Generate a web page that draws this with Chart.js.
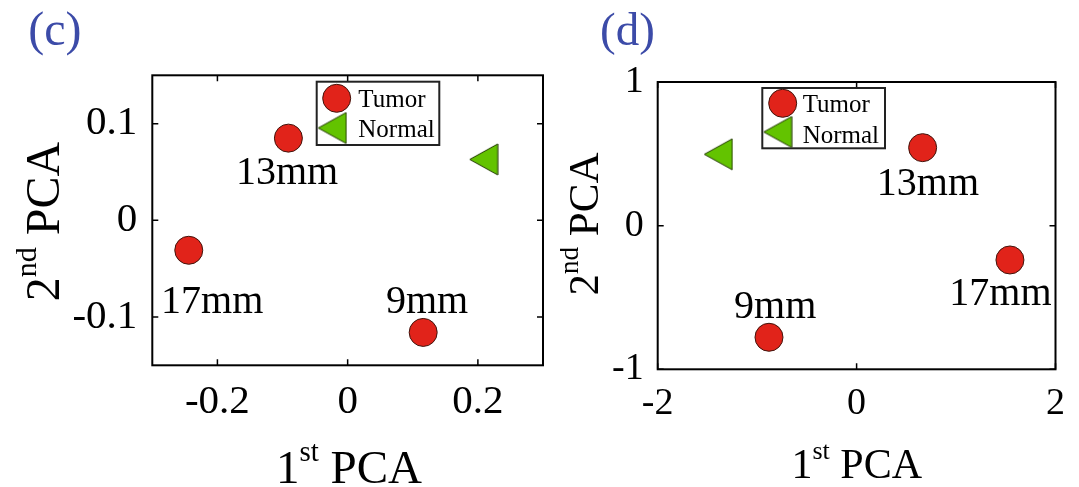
<!DOCTYPE html>
<html>
<head>
<meta charset="utf-8">
<script src="https://cdn.jsdelivr.net/npm/chart.js@4.4.1/dist/chart.umd.min.js"></script>
<style>
  html, body { margin: 0; padding: 0; background: #fff; }
  #wrap { position: relative; width: 1079px; height: 487px; overflow: hidden; }
  .panel { position: absolute; top: 0; height: 487px; }
  #panelC { left: 0; width: 560px; }
  #panelD { left: 560px; width: 519px; }
</style>
</head>
<body>
<div id="wrap">
  <div class="panel" id="panelC"><canvas id="chartC"></canvas></div>
  <div class="panel" id="panelD"><canvas id="chartD"></canvas></div>
</div>
<script>
// tumour sizes, same order in both panels
const sizeLabels = ['9mm', '13mm', '17mm'];

// panel (c)
const tumorCx = [0.116, -0.091, -0.244];
const tumorCy = [-0.116, 0.085, -0.031];
const normalCx = [0.209];
const normalCy = [0.063];
const labelCx = [0.122, -0.093, -0.208];
const labelCy = [-0.096, 0.038, -0.096];
const xTicksC = [-0.2, 0, 0.2];
const yTicksC = [-0.1, 0, 0.1];

// panel (d)
const tumorDx = [-0.881, 0.664, 1.542];
const tumorDy = [-0.777, 0.543, -0.239];
const normalDx = [-1.391];
const normalDy = [0.497];
const labelDx = [-0.819, 0.717, 1.446];
const labelDy = [-0.645, 0.214, -0.552];
const xTicksD = [-2, 0, 2];
const yTicksD = [-1, 0, 1];

const SERIF = '"Liberation Serif", "Times New Roman", serif';
const RED = '#e1231a';
const GREEN = '#63c300';
const BLUE = '#3c4ba8';

// left-pointing triangle, like matlab's '<' marker
function triangleImage(w, h) {
  const c = document.createElement('canvas');
  c.width = w + 2; c.height = h + 2;
  const g = c.getContext('2d');
  g.beginPath();
  g.moveTo(1, (h + 2) / 2);
  g.lineTo(w + 1, 1);
  g.lineTo(w + 1, h + 1);
  g.closePath();
  g.fillStyle = GREEN; g.fill();
  g.lineWidth = 1; g.strokeStyle = '#223a00'; g.stroke();
  return c;
}
const tri = triangleImage(28, 31);

function pts(xs, ys) { return xs.map((x, i) => ({ x, y: ys[i] })); }

// "1st PCA" style label with superscript, centred on cx
function supLabel(ctx, base, sup, rest, cx, y, size) {
  const small = Math.round(size * 0.62);
  ctx.font = size + 'px ' + SERIF;
  const w1 = ctx.measureText(base).width, w3 = ctx.measureText(rest).width;
  ctx.font = small + 'px ' + SERIF;
  const w2 = ctx.measureText(sup).width;
  let x = cx - (w1 + w2 + w3) / 2;
  ctx.textAlign = 'left'; ctx.textBaseline = 'alphabetic';
  ctx.font = size + 'px ' + SERIF;
  ctx.fillText(base, x, y); x += w1;
  ctx.font = small + 'px ' + SERIF;
  ctx.fillText(sup, x, y - size * 0.47); x += w2;
  ctx.font = size + 'px ' + SERIF;
  ctx.fillText(rest, x, y);
}

function makePanel(id, p) {
  const deco = {
    id: 'deco',
    afterDatasetsDraw(chart) {
      const { ctx, scales: { x, y } } = chart;
      ctx.save();
      ctx.fillStyle = '#000';
      ctx.font = p.labelSize + 'px ' + SERIF;
      ctx.textAlign = 'center'; ctx.textBaseline = 'alphabetic';
      sizeLabels.forEach((t, i) => {
        ctx.fillText(t, x.getPixelForValue(p.labelX[i]), y.getPixelForValue(p.labelY[i]));
      });
      ctx.restore();
    },
    afterDraw(chart) {
      const { ctx, chartArea: a, scales: { x, y } } = chart;
      ctx.save();
      // box + inward ticks on all sides
      ctx.strokeStyle = '#000';
      ctx.lineWidth = 2;
      ctx.strokeRect(a.left, a.top, a.right - a.left, a.bottom - a.top);
      ctx.lineWidth = 1.5;
      ctx.beginPath();
      p.xTicks.forEach(v => {
        const px = x.getPixelForValue(v);
        ctx.moveTo(px, a.bottom); ctx.lineTo(px, a.bottom - 6);
        ctx.moveTo(px, a.top); ctx.lineTo(px, a.top + 6);
      });
      p.yTicks.forEach(v => {
        const py = y.getPixelForValue(v);
        ctx.moveTo(a.left, py); ctx.lineTo(a.left + 6, py);
        ctx.moveTo(a.right, py); ctx.lineTo(a.right - 6, py);
      });
      ctx.stroke();

      // legend
      const L = p.legend;
      ctx.fillStyle = '#fff';
      ctx.fillRect(L.box[0], L.box[1], L.box[2] - L.box[0], L.box[3] - L.box[1]);
      ctx.lineWidth = 2;
      ctx.strokeStyle = '#222';
      ctx.strokeRect(L.box[0], L.box[1], L.box[2] - L.box[0], L.box[3] - L.box[1]);
      ctx.beginPath();
      ctx.arc(L.circle[0], L.circle[1], 14, 0, Math.PI * 2);
      ctx.fillStyle = RED; ctx.fill();
      ctx.lineWidth = 1; ctx.strokeStyle = '#40140c'; ctx.stroke();
      ctx.drawImage(tri, L.tri[0] - tri.width / 2, L.tri[1] - tri.height / 2);
      ctx.fillStyle = '#000';
      ctx.font = L.size + 'px ' + SERIF;
      ctx.textAlign = 'left'; ctx.textBaseline = 'alphabetic';
      ctx.fillText('Tumor', L.textX, L.base[0]);
      ctx.fillText('Normal', L.textX, L.base[1]);

      // axis titles
      supLabel(ctx, '1', 'st', ' PCA', p.xTitle[0], p.xTitle[1], p.xTitleSize);
      ctx.save();
      ctx.translate(p.yTitle[0], p.yTitle[1]);
      ctx.rotate(-Math.PI / 2);
      supLabel(ctx, '2', 'nd', ' PCA', 0, 0, p.yTitleSize);
      ctx.restore();

      // panel letter
      ctx.fillStyle = BLUE;
      ctx.font = p.letterSize + 'px ' + SERIF;
      ctx.textAlign = 'left';
      ctx.fillText(p.letter, p.letterPos[0], p.letterPos[1]);
      ctx.restore();
    }
  };

  const tickFont = { family: SERIF, size: p.tickSize };
  return new Chart(document.getElementById(id), {
    type: 'scatter',
    data: {
      datasets: [
        { label: 'Tumor', data: pts(p.tumorX, p.tumorY), pointStyle: 'circle', pointRadius: 14,
          backgroundColor: RED, borderColor: '#40140c', borderWidth: 1 },
        { label: 'Normal', data: pts(p.normalX, p.normalY), pointStyle: tri, pointRadius: 16 }
      ]
    },
    options: {
      responsive: true, maintainAspectRatio: false, animation: false,
      layout: { padding: p.pad },
      plugins: { legend: { display: false }, tooltip: { enabled: false } },
      scales: {
        x: {
          type: 'linear', min: p.xRange[0], max: p.xRange[1],
          afterBuildTicks: s => { s.ticks = p.xTicks.map(v => ({ value: v })); },
          afterFit: s => { s.height = 60; },
          grid: { display: false, drawTicks: false }, border: { display: false },
          ticks: { font: tickFont, color: '#000', padding: 12, maxRotation: 0, autoSkip: false, callback: v => String(v) }
        },
        y: {
          type: 'linear', min: p.yRange[0], max: p.yRange[1],
          afterBuildTicks: s => { s.ticks = p.yTicks.map(v => ({ value: v })); },
          afterFit: s => { s.width = p.yAxisW; },
          grid: { display: false, drawTicks: false }, border: { display: false },
          ticks: { font: tickFont, color: '#000', padding: p.yPad, autoSkip: false, callback: v => String(v) }
        }
      }
    },
    plugins: [deco]
  });
}

makePanel('chartC', {
  tumorX: tumorCx, tumorY: tumorCy, normalX: normalCx, normalY: normalCy,
  labelX: labelCx, labelY: labelCy, xTicks: xTicksC, yTicks: yTicksC,
  xRange: [-0.3, 0.3], yRange: [-0.15, 0.15],
  pad: { left: 0, top: 75.3, right: 16.2, bottom: 61.7 }, yAxisW: 152.3, yPad: 15,
  tickSize: 41, labelSize: 40,
  legend: { box: [316.7, 81.7, 439.3, 145], circle: [336.7, 98.3], tri: [332.2, 128], textX: 358.3, base: [106.7, 136.7], size: 25 },
  xTitle: [349, 483.3], xTitleSize: 47, yTitle: [59, 221.5], yTitleSize: 48,
  letter: '(c)', letterPos: [28.3, 44.7], letterSize: 48
});

makePanel('chartD', {
  tumorX: tumorDx, tumorY: tumorDy, normalX: normalDx, normalY: normalDy,
  labelX: labelDx, labelY: labelDy, xTicks: xTicksD, yTicks: yTicksD,
  xRange: [-2, 2], yRange: [-1, 1],
  pad: { left: 0, top: 82, right: 23.5, bottom: 57.7 }, yAxisW: 97.7, yPad: 14,
  tickSize: 38, labelSize: 40,
  legend: { box: [202.3, 88, 325, 148.3], circle: [222.7, 103.3], tri: [217.7, 132], textX: 242.7, base: [112, 143], size: 25 },
  xTitle: [296.7, 478.3], xTitleSize: 42, yTitle: [38.3, 224], yTitleSize: 43,
  letter: '(d)', letterPos: [40, 44.7], letterSize: 47
});
</script>
</body>
</html>
